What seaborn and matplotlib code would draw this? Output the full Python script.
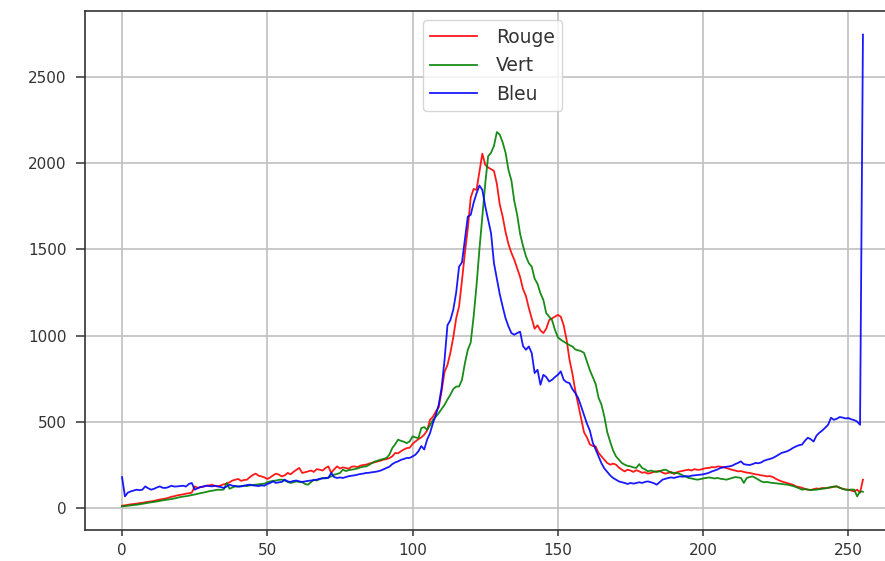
import numpy as np
import pandas as pd
import matplotlib
matplotlib.use("Agg")
import matplotlib.pyplot as plt
import seaborn as sns

niveaux = list(range(256))

rouge = [
    14, 16, 19, 22, 24, 26, 29, 31, 34, 37,
    39, 42, 46, 50, 53, 56, 60, 66, 69, 74,
    77, 80, 84, 86, 90, 126, 118, 122, 125, 130,
    132, 136, 128, 126, 132, 138, 142, 150, 160, 165,
    169, 158, 163, 165, 180, 192, 200, 188, 184, 178,
    169, 178, 190, 200, 194, 184, 190, 204, 196, 210,
    222, 233, 204, 208, 213, 218, 210, 226, 223, 218,
    232, 242, 204, 225, 242, 230, 236, 233, 228, 240,
    242, 238, 246, 250, 252, 258, 262, 266, 271, 275,
    281, 284, 290, 300, 320, 318, 330, 340, 348, 350,
    372, 387, 400, 410, 426, 450, 512, 530, 560, 585,
    680, 790, 830, 900, 990, 1100, 1170, 1320, 1480, 1620,
    1800, 1850, 1845, 1950, 2055, 1990, 1975, 1965, 1955, 1880,
    1760, 1690, 1600, 1530, 1480, 1440, 1390, 1340, 1270, 1230,
    1160, 1100, 1040, 1060, 1030, 1015, 1040, 1090, 1100, 1110,
    1120, 1110, 1060, 976, 860, 780, 680, 600, 520, 440,
    410, 370, 360, 358, 320, 300, 280, 262, 252, 258,
    252, 235, 223, 213, 223, 218, 210, 220, 213, 205,
    208, 200, 204, 210, 213, 216, 206, 200, 204, 210,
    198, 208, 213, 216, 220, 223, 218, 226, 222, 223,
    228, 232, 233, 238, 236, 242, 240, 238, 232, 227,
    222, 218, 213, 215, 210, 206, 204, 200, 196, 194,
    190, 188, 184, 186, 180, 170, 162, 155, 150, 145,
    140, 135, 126, 122, 118, 112, 107, 105, 110, 114,
    112, 117, 115, 118, 120, 124, 126, 118, 112, 108,
    107, 102, 97, 107, 90, 165,
]

vert = [
    10, 12, 14, 16, 18, 20, 22, 25, 28, 31,
    34, 36, 39, 42, 45, 48, 50, 53, 56, 60,
    64, 67, 69, 72, 76, 79, 83, 87, 90, 94,
    98, 101, 104, 107, 106, 108, 146, 112, 120, 126,
    124, 128, 130, 128, 132, 134, 136, 138, 140, 142,
    150, 155, 158, 160, 164, 165, 160, 152, 146, 150,
    155, 152, 150, 140, 136, 150, 165, 160, 168, 175,
    172, 178, 184, 194, 198, 204, 223, 215, 220, 223,
    226, 230, 236, 240, 242, 250, 262, 270, 275, 281,
    285, 291, 310, 348, 370, 397, 390, 385, 377, 387,
    416, 410, 406, 464, 470, 454, 480, 512, 530, 551,
    575, 599, 630, 657, 690, 705, 705, 744, 840, 918,
    960, 1110, 1290, 1500, 1690, 1880, 2040, 2060, 2100, 2180,
    2165, 2120, 2060, 1960, 1900, 1780, 1700, 1590, 1520, 1460,
    1420, 1400, 1330, 1300, 1245, 1207, 1130, 1110, 1090, 1033,
    990, 976, 965, 955, 945, 937, 920, 915, 910, 900,
    850, 800, 760, 720, 640, 600, 530, 440, 385, 335,
    300, 281, 262, 252, 245, 242, 236, 233, 255, 233,
    225, 213, 218, 213, 210, 213, 220, 223, 215, 204,
    205, 204, 198, 190, 182, 175, 172, 168, 165, 168,
    172, 175, 178, 175, 172, 175, 170, 168, 165, 170,
    175, 180, 178, 175, 146, 175, 180, 184, 175, 165,
    155, 150, 152, 148, 146, 144, 142, 140, 138, 136,
    132, 128, 122, 115, 107, 110, 108, 105, 106, 107,
    110, 112, 115, 118, 122, 125, 126, 118, 112, 107,
    105, 108, 107, 68, 97, 95,
]

bleu = [
    180, 68, 90, 97, 102, 107, 104, 107, 126, 115,
    107, 112, 120, 126, 118, 117, 122, 130, 125, 126,
    128, 130, 125, 140, 146, 107, 115, 122, 125, 130,
    128, 126, 130, 126, 122, 117, 125, 136, 130, 128,
    126, 126, 130, 134, 136, 132, 130, 128, 132, 130,
    140, 146, 155, 146, 150, 152, 165, 155, 152, 158,
    160, 155, 152, 155, 158, 160, 162, 165, 170, 172,
    175, 175, 204, 180, 175, 178, 175, 180, 185, 188,
    190, 194, 198, 200, 204, 205, 208, 210, 213, 218,
    225, 233, 240, 255, 265, 271, 280, 285, 291, 291,
    300, 310, 330, 360, 340, 397, 435, 493, 540, 600,
    700, 860, 1060, 1090, 1150, 1250, 1400, 1425, 1560, 1690,
    1700, 1770, 1825, 1870, 1845, 1750, 1671, 1594, 1420, 1330,
    1240, 1168, 1100, 1053, 1015, 1005, 1015, 1023, 940, 918,
    937, 899, 783, 802, 715, 773, 760, 734, 744, 760,
    773, 793, 744, 730, 725, 690, 667, 638, 590, 540,
    490, 450, 380, 340, 300, 260, 230, 210, 190, 175,
    165, 155, 150, 146, 140, 146, 142, 146, 150, 146,
    152, 155, 150, 145, 136, 150, 165, 170, 175, 178,
    175, 180, 184, 182, 186, 184, 188, 190, 192, 194,
    196, 200, 205, 213, 218, 225, 233, 236, 240, 242,
    246, 255, 262, 271, 255, 252, 250, 255, 262, 260,
    265, 275, 281, 285, 291, 300, 310, 320, 325, 330,
    339, 350, 358, 365, 368, 390, 408, 400, 386, 420,
    437, 450, 466, 483, 524, 512, 518, 528, 525, 520,
    522, 515, 510, 502, 483, 2745,
]

canaux = ["Rouge", "Vert", "Bleu"]
couleurs = {"Rouge": "r", "Vert": "g", "Bleu": "b"}

df = pd.DataFrame({
    "niveau": niveaux * 3,
    "compte": rouge + vert + bleu,
    "canal": ["Rouge"] * 256 + ["Vert"] * 256 + ["Bleu"] * 256,
})

plt.rcParams["font.family"] = ["DejaVu Sans"]
fig = plt.figure(figsize=(8.85, 5.61), dpi=100)
ax = fig.add_axes([85 / 885, 31 / 561, (900 - 85) / 885, (530 - 11) / 561])

sns.lineplot(data=df, x="niveau", y="compte", hue="canal", hue_order=canaux,
             palette=couleurs, linewidth=1.3, alpha=0.9, ax=ax, legend=True)

ax.set_xlabel("")
ax.set_ylabel("")
ax.grid(True, color="#c0c0c0", linewidth=1.2)
ax.set_axisbelow(True)
ax.set_xticks([0, 50, 100, 150, 200, 250])
ax.set_yticks([0, 500, 1000, 1500, 2000, 2500])
ax.tick_params(labelsize=11, width=1.1, colors="#333333")
ax.tick_params(axis="y", length=6.3, pad=7)
ax.tick_params(axis="x", length=4.3, pad=5)
for s in ax.spines.values():
    s.set_linewidth(1.2)
    s.set_color("#333333")
ax.margins(x=0.05, y=0.05)

handles, labels = ax.get_legend_handles_labels()
ax.legend(handles, labels, loc="upper center", fontsize=13.5, framealpha=0.8,
          handlelength=2.5, handletextpad=1.0, borderaxespad=0.5,
          labelcolor="#333333")

fig.savefig("out.png", dpi=100)
